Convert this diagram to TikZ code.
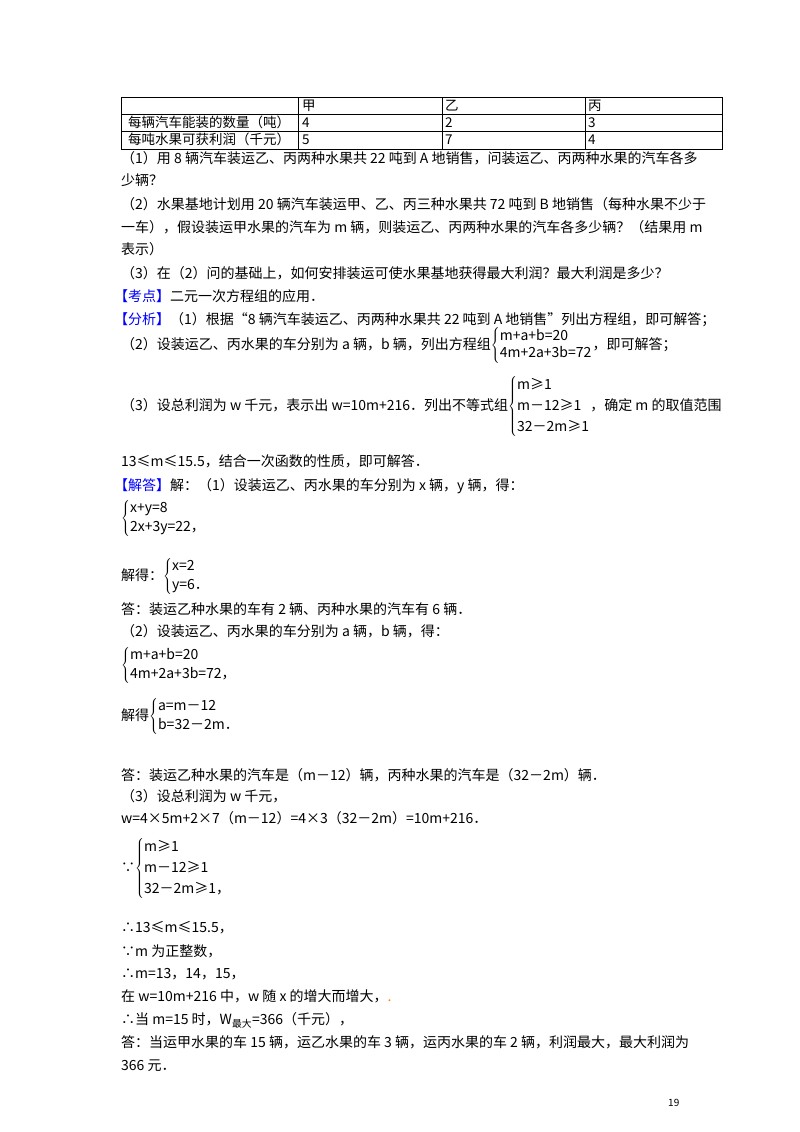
\documentclass[tikz,border=0pt]{standalone}
\usepackage{fontspec}
\setmainfont{Noto Sans CJK SC}
\definecolor{kblue}{RGB}{0,0,255}
\tikzset{ln/.style={anchor=base west,inner sep=0pt,font=\fontsize{14}{16}\selectfont},
 tl/.style={anchor=base west,inner sep=0pt,font=\fontsize{13.5}{16}\selectfont}}
\newcommand{\kb}[1]{\textcolor{kblue}{【#1】}}
\newcommand{\sys}[2][1.45]{$\left\{\renewcommand{\arraystretch}{#1}\begin{tabular}{@{}l@{}}#2\end{tabular}\right.$}
\begin{document}
\begin{tikzpicture}[x=1pt,y=-1pt]
\useasboundingbox (0,0) rectangle (800,1132);
\fill[white] (0,0) rectangle (800,1132);
% table
\draw[line width=0.8pt] (121,97) rectangle (722,149);
\foreach \y in {114,131} \draw[line width=0.8pt] (121,\y) -- (722,\y);
\foreach \x in {298,442,585} \draw[line width=0.8pt] (\x,97) -- (\x,149);
\node[tl] (h1) at (302,110) {甲};
\node[tl] (h2) at (445,110) {乙};
\node[tl] (h3) at (588,110) {丙};
\node[tl] (r1) at (128,127) {每辆汽车能装的数量（吨）};
\node[tl] (r1a) at (302,127) {4};
\node[tl] (r1b) at (445,127) {2};
\node[tl] (r1c) at (588,127) {3};
\node[tl] (r2) at (128,144) {每吨水果可获利润（千元）};
\node[tl] (r2a) at (302,144) {5};
\node[tl] (r2b) at (445,144) {7};
\node[tl] (r2c) at (588,144) {4};
% text
\node[ln] (l1) at (121,163) {（1）用 8 辆汽车装运乙、丙两种水果共 22 吨到 A 地销售，问装运乙、丙两种水果的汽车各多};
\node[ln] (l2) at (121,185) {少辆？};
\node[ln] (l3) at (121,209) {（2）水果基地计划用 20 辆汽车装运甲、乙、丙三种水果共 72 吨到 B 地销售（每种水果不少于};
\node[ln] (l4) at (121,232) {一车），假设装运甲水果的汽车为 m 辆，则装运乙、丙两种水果的汽车各多少辆？（结果用 m};
\node[ln] (l5) at (121,254) {表示）};
\node[ln] (l6) at (121,278) {（3）在（2）问的基础上，如何安排装运可使水果基地获得最大利润？最大利润是多少？};
\node[ln] (l7) at (114,301) {\kb{考点}二元一次方程组的应用．};
\node[ln] (l8) at (114,324) {\kb{分析}（1）根据“8 辆汽车装运乙、丙两种水果共 22 吨到 A 地销售”列出方程组，即可解答；};
\node[ln] (l9) at (121,349) {（2）设装运乙、丙水果的车分别为 a 辆，b 辆，列出方程组\sys[1.05]{m+a+b=20\\4m+2a+3b=72}，即可解答；};
\node[ln] (l10) at (121,410) {（3）设总利润为 w 千元，表示出 w=10m+216．列出不等式组\sys[1.3]{m≥1\\m－12≥1\\32－2m≥1}，确定 m 的取值范围};
\node[ln] (l11) at (121,466) {13≤m≤15.5，结合一次函数的性质，即可解答．};
\node[ln] (l12) at (114,490) {\kb{解答}解：（1）设装运乙、丙水果的车分别为 x 辆，y 辆，得：};
\node[ln] (l13) at (121,522) {\sys[1.2]{x+y=8\\2x+3y=22，}};
\node[ln] (l14) at (121,580) {解得：\sys[1.2]{x=2\\y=6．}};
\node[ln] (l15) at (121,614) {答：装运乙种水果的车有 2 辆、丙种水果的汽车有 6 辆．};
\node[ln] (l16) at (121,636) {（2）设装运乙、丙水果的车分别为 a 辆，b 辆，得：};
\node[ln] (l17) at (121,669) {\sys[1.2]{m+a+b=20\\4m+2a+3b=72，}};
\node[ln] (l18) at (121,720) {解得\sys[1.2]{a=m－12\\b=32－2m．}};
\node[ln] (l19) at (121,780) {答：装运乙种水果的汽车是（m－12）辆，丙种水果的汽车是（32－2m）辆．};
\node[ln] (l20) at (121,801) {（3）设总利润为 w 千元，};
\node[ln] (l21) at (121,823) {w=4×5m+2×7（m－12）=4×3（32－2m）=10m+216．};
\node[ln] (l22) at (121,872) {∵\sys[1.3]{m≥1\\m－12≥1\\32－2m≥1，}};
\node[ln] (l23) at (121,932) {∴13≤m≤15.5，};
\node[ln] (l24) at (121,956) {∵m 为正整数，};
\node[ln] (l25) at (121,978) {∴m=13，14，15，};
\node[ln] (l26) at (121,1001) {在 w=10m+216 中，w 随 x 的增大而增大，\textcolor{orange}{.}};
\node[ln] (l27) at (121,1024) {∴当 m=15 时，W\textsubscript{最大}=366（千元），};
\node[ln] (l28) at (121,1047) {答：当运甲水果的车 15 辆，运乙水果的车 3 辆，运丙水果的车 2 辆，利润最大，最大利润为};
\node[ln] (l29) at (121,1070) {366 元．};
\node[anchor=base west,inner sep=0pt,font=\fontsize{10}{12}\selectfont] (pg) at (668,1106) {19};
\end{tikzpicture}
\end{document}
